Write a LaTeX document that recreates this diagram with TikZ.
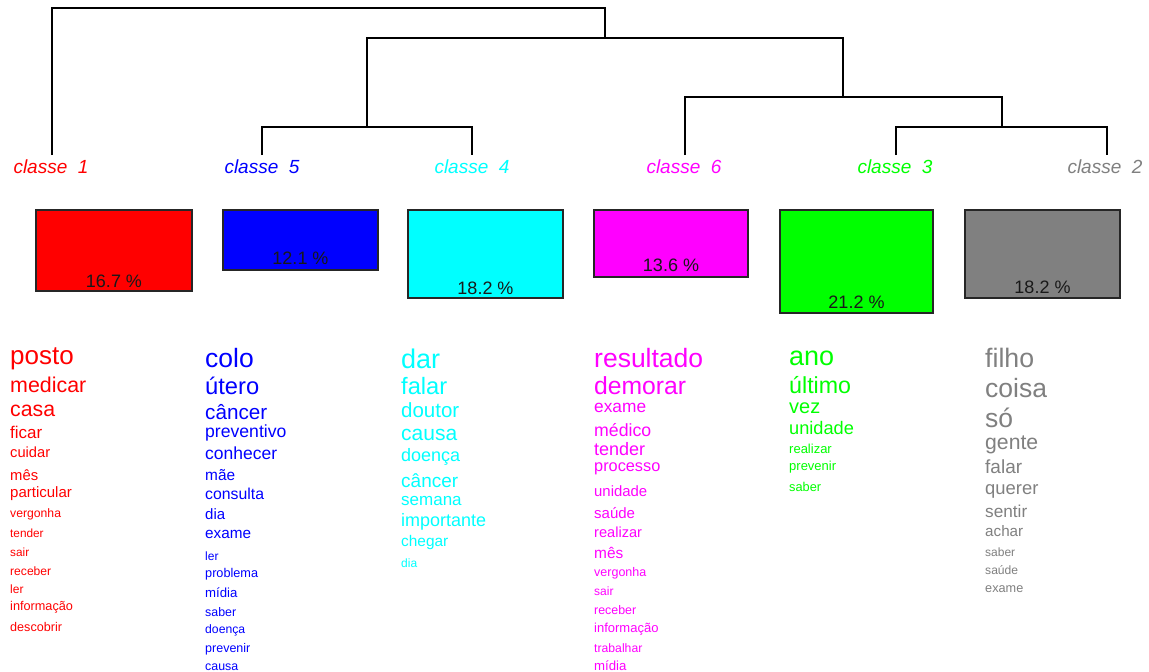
\documentclass[tikz,border=0pt]{standalone}
\usepackage{fontspec}
\setmainfont{Liberation Sans}
\definecolor{cla}{HTML}{FF0000}
\definecolor{clb}{HTML}{0000FF}
\definecolor{clc}{HTML}{00FFFF}
\definecolor{cld}{HTML}{FF00FF}
\definecolor{cle}{HTML}{00FF00}
\definecolor{clf}{HTML}{808080}
\begin{document}
\begin{tikzpicture}[x=1pt,y=1pt,
  tree/.style={draw=black, line width=1.3pt},
  classlabel/.style={anchor=base, inner sep=0pt, font=\fontsize{19}{19}\selectfont\itshape},
  pctbox/.style={draw=black!85, line width=1.3pt},
  pct/.style={anchor=base, inner sep=0pt, text=black!90, font=\fontsize{18}{18}\selectfont},
  word/.style={anchor=mid west, inner sep=0pt, yshift={-0.2*#1},
    font=\fontsize{#1}{#1}\selectfont}]
\useasboundingbox (0,0) rectangle (1149,-672);
\fill[white] (0,0) rectangle (1149,-672);

% class labels
\node[classlabel, text=cla] (l1) at (51,-173) {classe~~1};
\node[classlabel, text=clb] (l5) at (262,-173) {classe~~5};
\node[classlabel, text=clc] (l4) at (472,-173) {classe~~4};
\node[classlabel, text=cld] (l6) at (684,-173) {classe~~6};
\node[classlabel, text=cle] (l3) at (895,-173) {classe~~3};
\node[classlabel, text=clf] (l2) at (1105,-173) {classe~~2};

% leaf ends of the dendrogram
\coordinate (k1) at (52,-155);
\coordinate (k5) at (262,-155);
\coordinate (k4) at (472,-155);
\coordinate (k6) at (685,-155);
\coordinate (k3) at (896,-155);
\coordinate (k2) at (1107,-155);
% merge points
\coordinate (m54) at (367,-127);
\coordinate (m32) at (1002,-127);
\coordinate (m632) at (843,-97);
\coordinate (mall) at (605,-38);
\coordinate (root) at (328,-8);

\draw[tree] (k5) |- (m54) -| (k4);
\draw[tree] (k3) |- (m32) -| (k2);
\draw[tree] (k6) |- (m632) -| (m32);
\draw[tree] (m54) |- (mall) -| (m632);
\draw[tree] (k1) |- (root) -| (mall);

% class size boxes
\filldraw[pctbox, fill=cla] (36,-210) rectangle (192,-291);
\filldraw[pctbox, fill=clb] (223,-210) rectangle (378,-270);
\filldraw[pctbox, fill=clc] (408,-210) rectangle (563,-298);
\filldraw[pctbox, fill=cld] (594,-210) rectangle (748,-277);
\filldraw[pctbox, fill=cle] (780,-210) rectangle (933,-313);
\filldraw[pctbox, fill=clf] (965,-210) rectangle (1120,-298);
\node[pct] (p1) at (114,-287) {16.7 \%};
\node[pct] (p5) at (300.5,-264) {12.1 \%};
\node[pct] (p4) at (485.5,-294) {18.2 \%};
\node[pct] (p6) at (671,-271) {13.6 \%};
\node[pct] (p3) at (856.5,-308) {21.2 \%};
\node[pct] (p2) at (1042.5,-293) {18.2 \%};

% words of class 1
\begin{scope}[text=cla]
\node[word=26] (a1) at (10,-357) {posto};
\node[word=21.4] (a2) at (10,-386) {medicar};
\node[word=21.3] (a3) at (10,-410) {casa};
\node[word=17] (a4) at (10,-432) {ficar};
\node[word=14.7] (a5) at (10,-452) {cuidar};
\node[word=14.8] (a6) at (10,-475) {mês};
\node[word=15] (a7) at (10,-492) {particular};
\node[word=12.2] (a8) at (10,-512) {vergonha};
\node[word=11.8] (a9) at (10,-532) {tender};
\node[word=11.8] (a10) at (10,-551) {sair};
\node[word=12.1] (a11) at (10,-570) {receber};
\node[word=12] (a12) at (10,-588) {ler};
\node[word=12.7] (a13) at (10,-605) {informação};
\node[word=12.6] (a14) at (10,-626) {descobrir};
\end{scope}

% words of class 5
\begin{scope}[text=clb]
\node[word=26.5] (b1) at (205,-360) {colo};
\node[word=23.7] (b2) at (205,-387) {útero};
\node[word=20.7] (b3) at (205,-413) {câncer};
\node[word=17.6] (b4) at (205,-431) {preventivo};
\node[word=17.5] (b5) at (205,-453) {conhecer};
\node[word=15.4] (b6) at (205,-475) {mãe};
\node[word=15.8] (b7) at (205,-494) {consulta};
\node[word=15] (b8) at (205,-514) {dia};
\node[word=15.3] (b9) at (205,-533) {exame};
\node[word=12] (b10) at (205,-555) {ler};
\node[word=12.7] (b11) at (205,-572) {problema};
\node[word=13.2] (b12) at (205,-592) {mídia};
\node[word=12.4] (b13) at (205,-611) {saber};
\node[word=12.2] (b14) at (205,-628) {doença};
\node[word=12.5] (b15) at (205,-647) {prevenir};
\node[word=12.4] (b16) at (205,-665) {causa};
\end{scope}

% words of class 4
\begin{scope}[text=clc]
\node[word=27] (c1) at (401,-360) {dar};
\node[word=23.7] (c2) at (401,-387) {falar};
\node[word=20.5] (c3) at (401,-411) {doutor};
\node[word=21] (c4) at (401,-434) {causa};
\node[word=18] (c5) at (401,-455) {doença};
\node[word=19] (c6) at (401,-481) {câncer};
\node[word=17] (c7) at (401,-499) {semana};
\node[word=18] (c8) at (401,-520) {importante};
\node[word=15.4] (c9) at (401,-541) {chegar};
\node[word=12] (c10) at (401,-562) {dia};
\end{scope}

% words of class 6
\begin{scope}[text=cld]
\node[word=26.5] (d1) at (594,-360) {resultado};
\node[word=24.7] (d2) at (594,-387) {demorar};
\node[word=17.3] (d3) at (594,-406) {exame};
\node[word=17.7] (d4) at (594,-430) {médico};
\node[word=18] (d5) at (594,-449) {tender};
\node[word=16.3] (d6) at (594,-466) {processo};
\node[word=14.9] (d7) at (594,-491) {unidade};
\node[word=15] (d8) at (594,-513) {saúde};
\node[word=14.6] (d9) at (594,-532) {realizar};
\node[word=15.4] (d10) at (594,-553) {mês};
\node[word=12.5] (d11) at (594,-571) {vergonha};
\node[word=12] (d12) at (594,-590) {sair};
\node[word=12.4] (d13) at (594,-609) {receber};
\node[word=13] (d14) at (594,-627) {informação};
\node[word=12.2] (d15) at (594,-647) {trabalhar};
\node[word=13.2] (d16) at (594,-665) {mídia};
\end{scope}

% words of class 3
\begin{scope}[text=cle]
\node[word=27] (e1) at (789,-357) {ano};
\node[word=23.2] (e2) at (789,-386) {último};
\node[word=20] (e3) at (789,-407) {vez};
\node[word=18.2] (e4) at (789,-428) {unidade};
\node[word=13] (e5) at (789,-448) {realizar};
\node[word=13] (e6) at (789,-465) {prevenir};
\node[word=12.8] (e7) at (789,-486) {saber};
\end{scope}

% words of class 2
\begin{scope}[text=clf]
\node[word=26.7] (f1) at (985,-360) {filho};
\node[word=26.5] (f2) at (985,-390) {coisa};
\node[word=26.5] (f3) at (985,-420) {só};
\node[word=21.2] (f4) at (985,-443) {gente};
\node[word=19] (f5) at (985,-467) {falar};
\node[word=18.4] (f6) at (985,-488) {querer};
\node[word=17.2] (f7) at (985,-511) {sentir};
\node[word=15.2] (f8) at (985,-531) {achar};
\node[word=12] (f9) at (985,-551) {saber};
\node[word=12.1] (f10) at (985,-569) {saúde};
\node[word=12.7] (f11) at (985,-587) {exame};
\end{scope}
\end{tikzpicture}
\end{document}
